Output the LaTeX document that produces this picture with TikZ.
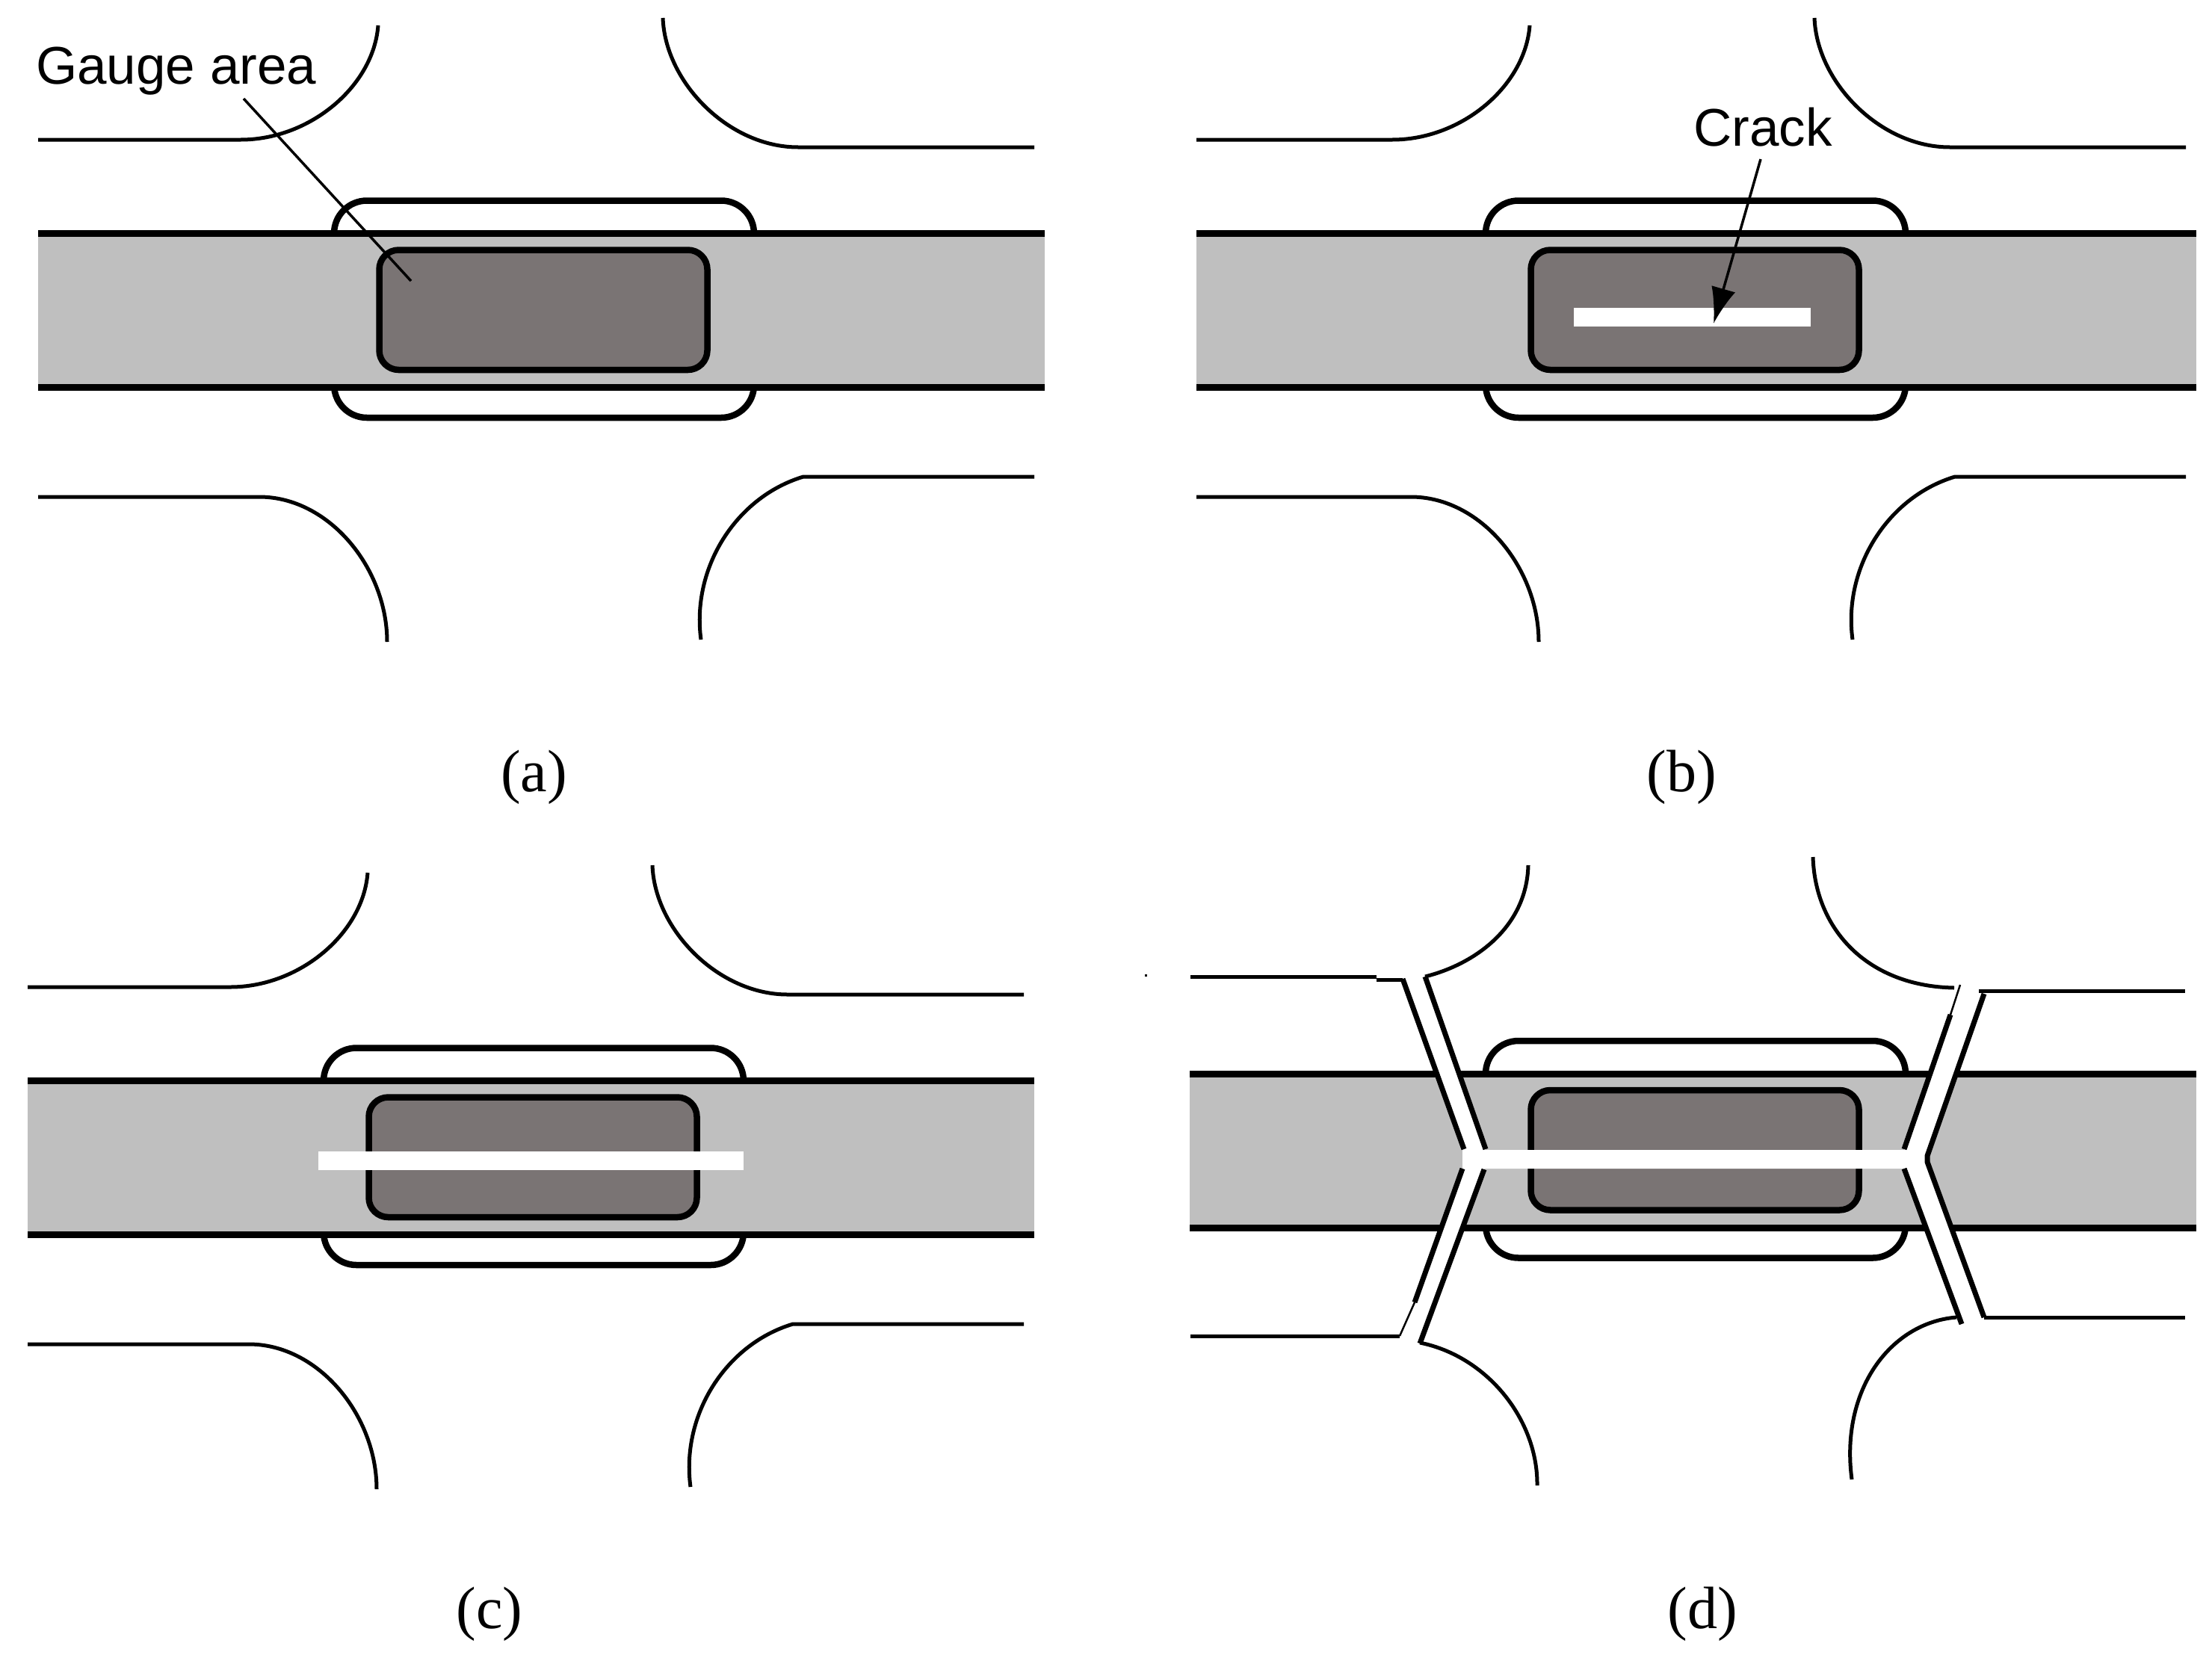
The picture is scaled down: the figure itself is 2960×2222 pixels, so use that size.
\documentclass[tikz,border=0pt]{standalone}
\usepackage{fontspec}
\setmainfont{Liberation Serif}
\newfontfamily\labelfont{Liberation Sans}
\usetikzlibrary{arrows.meta}

\newcommand{\specimenbody}[1]{
    \draw [holderline] (447,268.5) rectangle (1009,559);
    \fill [bandfill] (#1,312.5) rectangle (1398,518.5);
    \draw [bandline] (#1,312.5) -- (1398,312.5);
    \draw [bandline] (#1,518.5) -- (1398,518.5);
    \draw [gaugebox] (507.5,334.5) rectangle (946.5,495);
}
\newcommand{\specimengrips}[1]{
    \draw [gripline] (#1,187) -- (322,187) .. controls (415,187) and (500,115) .. (506,34);
    \draw [gripline] (887,24) .. controls (890,110) and (975,197) .. (1068,197) -- (1384,197);
    \draw [gripline] (#1,665) -- (347,665) .. controls (440,665) and (518,760) .. (518,859);
    \draw [gripline] (1384,638) -- (1075,638) .. controls (985,665) and (925,760) .. (938,856);
}

\begin{document}
\begin{tikzpicture}[x=1pt, y=-1pt,
    holderline/.style={draw=black, line width=8.5pt, rounded corners=44pt},
    bandfill/.style={fill=bandgray},
    bandline/.style={draw=black, line width=9pt},
    gaugebox/.style={draw=black, fill=gaugegray, line width=8.5pt, rounded corners=26pt},
    gripline/.style={draw=black, line width=5pt},
    leaderline/.style={draw=black, line width=3.5pt},
    crackbar/.style={fill=white},
    crackedge/.style={draw=black, line width=7pt},
    tornedge/.style={draw=black, line width=2.5pt},
    caption/.style={anchor=base, inner sep=0pt, font=\fontsize{80}{96}\selectfont},
    callout/.style={anchor=base west, inner sep=0pt, font=\labelfont\fontsize{71}{85}\selectfont}]
    \definecolor{bandgray}{HTML}{BFBFBF}
    \definecolor{gaugegray}{HTML}{7A7474}
    \useasboundingbox (0,0) rectangle (2960,2222);

    % (a)
    \specimenbody{51}
    \specimengrips{51}
    \node (gauge) [callout] at (48,112) {Gauge area};
    \coordinate (gaugestart) at (326,132);
    \coordinate (gaugeend) at (550,376);
    \draw [leaderline] (gaugestart) -- (gaugeend);
    \node (capa) [caption] at (714.5,1059) {(a)};

    % (b)
    \begin{scope}[shift={(1541,0)}]
        \specimenbody{60}
        \specimengrips{60}
    \end{scope}
    \fill [crackbar] (2106,412) rectangle (2423,437);
    \node (crack) [callout] at (2266,195) {Crack};
    \coordinate (crackstart) at (2356,213);
    \coordinate (cracktip) at (2293,433);
    \draw [leaderline, -{Latex[length=48pt,width=33pt]}] (crackstart) -- (cracktip);
    \node (capb) [caption] at (2250,1059) {(b)};

    % (c)
    \begin{scope}[shift={(-14,1134)}]
        \specimenbody{51}
        \specimengrips{51}
    \end{scope}
    \fill [crackbar] (426,1541) rectangle (995,1566);
    \node (capc) [caption] at (655,2179) {(c)};

    % (d)
    \begin{scope}[shift={(1541,1124.5)}]
        \specimenbody{51}
    \end{scope}
    \fill [crackbar] (1877,1310) -- (1957,1539) -- (1957,1564) -- (1873,1788) -- (1900,1798)
        -- (1986,1564) -- (2548,1564) -- (2625,1772) -- (2655,1763) -- (2579,1555) -- (2579,1547)
        -- (2655,1330) -- (2623,1318) -- (2548,1539) -- (1988,1539) -- (1907,1307) -- cycle;
    % left tear
    \draw [crackedge] (1877,1310) -- (1959,1538);
    \draw [crackedge] (1907,1307) -- (1988,1538);
    \draw [crackedge] (1957,1564) -- (1893,1743);
    \draw [tornedge] (1893,1743) -- (1873,1788);
    \draw [crackedge] (1986,1565) -- (1900,1798);
    % right tear
    \draw [tornedge] (2623,1318) -- (2610,1358);
    \draw [crackedge] (2610,1358) -- (2548,1538);
    \draw [crackedge] (2655,1330) -- (2579,1547) -- (2579,1555) -- (2655,1763);
    \draw [crackedge] (2548,1564) -- (2625,1772);
    % broken grips
    \draw [gripline] (1593,1307) -- (1842,1307);
    \draw [gripline] (1842,1311) -- (1877,1311);
    \draw [gripline] (1907,1307) .. controls (1975,1290) and (2043,1240) .. (2045,1158);
    \draw [gripline] (2426,1147) .. controls (2429,1245) and (2500,1320) .. (2615,1322);
    \draw [gripline] (2648,1326) -- (2924,1326);
    \draw [gripline] (1593,1788) -- (1873,1788);
    \draw [gripline] (1900,1797) .. controls (1990,1815) and (2058,1900) .. (2057,1988);
    \draw [gripline] (2618,1763) .. controls (2530,1770) and (2462,1860) .. (2478,1980);
    \draw [gripline] (2655,1763) -- (2924,1763);
    \fill (1532,1304) rectangle (1535,1307);
    \node (capd) [caption] at (2278,2179) {(d)};
\end{tikzpicture}
\end{document}
